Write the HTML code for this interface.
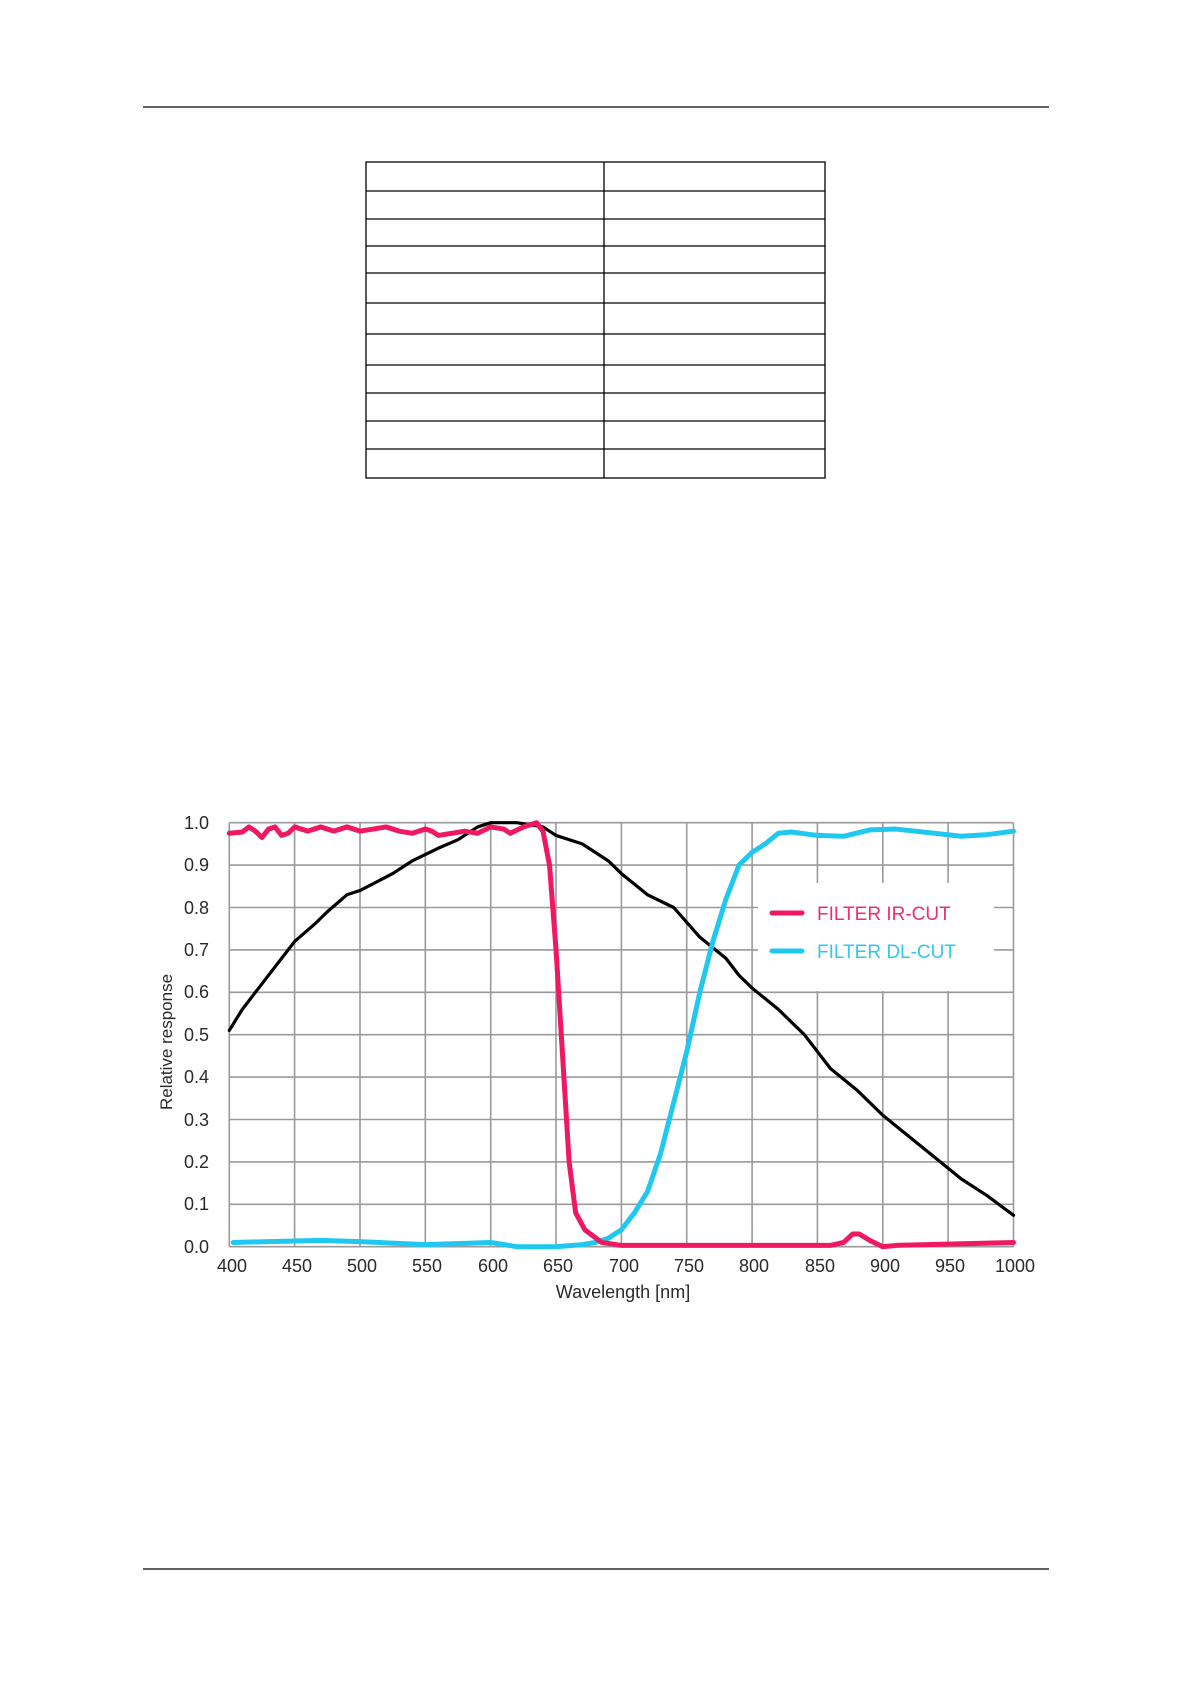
<!DOCTYPE html>
<html><head><meta charset="utf-8"><style>
html,body{margin:0;padding:0;background:#fff}
body{width:1191px;height:1684px;position:relative;overflow:hidden;font-family:"Liberation Sans",sans-serif}
</style></head><body>
<svg width="1191" height="1684" viewBox="0 0 1191 1684" xmlns="http://www.w3.org/2000/svg" style="position:absolute;left:0;top:0">
<line x1="143" y1="107" x2="1049" y2="107" stroke="#000" stroke-width="1.3"/>
<line x1="143" y1="1569" x2="1049" y2="1569" stroke="#000" stroke-width="1.3"/>
<g stroke="#000" stroke-width="1.3" fill="none">
<rect x="366" y="162" width="459" height="316"/>
<line x1="604" y1="162" x2="604" y2="478"/>
<line x1="366" y1="191" x2="825" y2="191"/>
<line x1="366" y1="219" x2="825" y2="219"/>
<line x1="366" y1="246" x2="825" y2="246"/>
<line x1="366" y1="273" x2="825" y2="273"/>
<line x1="366" y1="303" x2="825" y2="303"/>
<line x1="366" y1="334" x2="825" y2="334"/>
<line x1="366" y1="365" x2="825" y2="365"/>
<line x1="366" y1="393" x2="825" y2="393"/>
<line x1="366" y1="421" x2="825" y2="421"/>
<line x1="366" y1="449" x2="825" y2="449"/>
</g>
<g stroke="#9a9a9a" stroke-width="1.6">
<line x1="229.3" y1="822.7" x2="1013.5" y2="822.7"/>
<line x1="229.3" y1="865.1" x2="1013.5" y2="865.1"/>
<line x1="229.3" y1="907.5" x2="1013.5" y2="907.5"/>
<line x1="229.3" y1="949.9" x2="1013.5" y2="949.9"/>
<line x1="229.3" y1="992.3" x2="1013.5" y2="992.3"/>
<line x1="229.3" y1="1034.7" x2="1013.5" y2="1034.7"/>
<line x1="229.3" y1="1077.1" x2="1013.5" y2="1077.1"/>
<line x1="229.3" y1="1119.5" x2="1013.5" y2="1119.5"/>
<line x1="229.3" y1="1161.9" x2="1013.5" y2="1161.9"/>
<line x1="229.3" y1="1204.3" x2="1013.5" y2="1204.3"/>
<line x1="229.3" y1="1246.7" x2="1013.5" y2="1246.7"/>
<line x1="229.3" y1="822.7" x2="229.3" y2="1246.7"/>
<line x1="294.6" y1="822.7" x2="294.6" y2="1246.7"/>
<line x1="360" y1="822.7" x2="360" y2="1246.7"/>
<line x1="425.3" y1="822.7" x2="425.3" y2="1246.7"/>
<line x1="490.7" y1="822.7" x2="490.7" y2="1246.7"/>
<line x1="556" y1="822.7" x2="556" y2="1246.7"/>
<line x1="621.4" y1="822.7" x2="621.4" y2="1246.7"/>
<line x1="686.7" y1="822.7" x2="686.7" y2="1246.7"/>
<line x1="752.1" y1="822.7" x2="752.1" y2="1246.7"/>
<line x1="817.4" y1="822.7" x2="817.4" y2="1246.7"/>
<line x1="882.8" y1="822.7" x2="882.8" y2="1246.7"/>
<line x1="948.1" y1="822.7" x2="948.1" y2="1246.7"/>
<line x1="1013.5" y1="822.7" x2="1013.5" y2="1246.7"/>
</g>
<rect x="758" y="883" width="236" height="108" fill="#fff"/>
<g transform="translate(229.3,1246.7) scale(1.307,-424)" fill="none" stroke-linejoin="round" stroke-linecap="round">
<polyline vector-effect="non-scaling-stroke" stroke="#000" stroke-width="3.2" points="0,0.51 10,0.56 25,0.62 40,0.68 50,0.72 65,0.76 75,0.79 90,0.83 100,0.84 125,0.88 140,0.91 160,0.94 175,0.96 190,0.99 200,1.0 220,1.0 240,0.99 250,0.97 270,0.95 290,0.91 300,0.88 320,0.83 340,0.80 360,0.73 380,0.68 390,0.64 400,0.61 420,0.56 440,0.50 460,0.42 480,0.37 500,0.31 520,0.26 540,0.21 560,0.16 580,0.12 600,0.074"/>
<polyline vector-effect="non-scaling-stroke" stroke="#1ec8f0" stroke-width="5" points="3,0.01 70,0.015 100,0.012 150,0.005 200,0.01 220,0.0 250,0.0 270,0.005 280,0.01 290,0.02 300,0.04 310,0.08 320,0.13 330,0.22 340,0.34 350,0.46 360,0.6 370,0.72 380,0.82 390,0.9 400,0.93 410,0.95 420,0.975 430,0.978 450,0.97 470,0.968 490,0.983 510,0.985 540,0.975 560,0.968 580,0.972 600,0.98"/>
<polyline vector-effect="non-scaling-stroke" stroke="#f01860" stroke-width="5" points="0,0.975 10,0.978 15,0.99 20,0.98 25,0.965 30,0.985 35,0.99 40,0.97 45,0.975 50,0.99 60,0.98 70,0.99 80,0.98 90,0.99 100,0.98 110,0.985 120,0.99 130,0.98 140,0.975 150,0.985 155,0.98 160,0.97 170,0.975 180,0.98 190,0.975 200,0.99 210,0.985 215,0.975 225,0.99 235,1.0 240,0.98 245,0.9 250,0.7 255,0.45 260,0.2 265,0.08 272,0.04 285,0.01 300,0.003 460,0.003 470,0.01 477,0.03 482,0.03 490,0.015 500,0.0 510,0.003 600,0.01"/>
</g>
<line x1="772" y1="913" x2="802" y2="913" stroke="#f01860" stroke-width="5" stroke-linecap="round"/>
<line x1="772" y1="951" x2="802" y2="951" stroke="#1ec8f0" stroke-width="5" stroke-linecap="round"/>
<text x="817" y="920" font-size="19" fill="#e8306a" font-family="Liberation Sans, sans-serif">FILTER IR-CUT</text>
<text x="817" y="958" font-size="19" fill="#30c8ee" font-family="Liberation Sans, sans-serif">FILTER DL-CUT</text>
<g font-size="18" fill="#2a2a2a" text-anchor="end" font-family="Liberation Sans, sans-serif">
<text x="209" y="829">1.0</text><text x="209" y="871">0.9</text><text x="209" y="914">0.8</text>
<text x="209" y="956">0.7</text><text x="209" y="998">0.6</text><text x="209" y="1041">0.5</text>
<text x="209" y="1083">0.4</text><text x="209" y="1126">0.3</text><text x="209" y="1168">0.2</text>
<text x="209" y="1210">0.1</text><text x="209" y="1253">0.0</text>
</g>
<g font-size="18" fill="#2a2a2a" text-anchor="middle" font-family="Liberation Sans, sans-serif">
<text x="232" y="1272">400</text><text x="297" y="1272">450</text><text x="362" y="1272">500</text>
<text x="427" y="1272">550</text><text x="493" y="1272">600</text><text x="558" y="1272">650</text>
<text x="624" y="1272">700</text><text x="689" y="1272">750</text><text x="754" y="1272">800</text>
<text x="820" y="1272">850</text><text x="885" y="1272">900</text><text x="950" y="1272">950</text>
<text x="1015" y="1272">1000</text>
<text x="623" y="1298">Wavelength [nm]</text>
<text transform="translate(172,1042) rotate(-90)" font-size="17">Relative response</text>
</g>
</svg>
</body></html>
